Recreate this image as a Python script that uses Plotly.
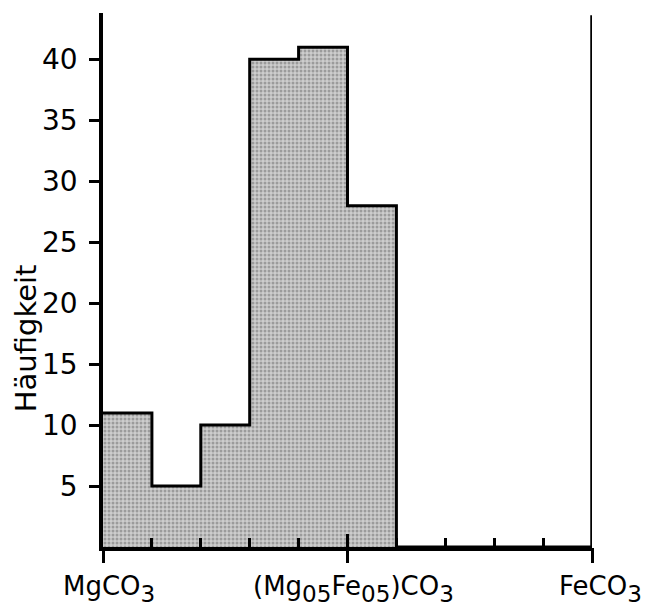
import plotly.graph_objects as go
import numpy as np

# Data
bin_edges = [0.0, 0.1, 0.2, 0.3, 0.4, 0.5, 0.6, 0.7, 0.8, 0.9, 1.0]
counts = [11, 5, 10, 40, 41, 28, 0, 0, 0, 0]
y_ticks = [5, 10, 15, 20, 25, 30, 35, 40]
x_label_pos = [0.0, 0.5, 1.0]
MAIN = '<span style="font-size:26px">{}</span>'
SUB = '<sub>{}</sub>'
x_labels = [
    MAIN.format("MgCO") + SUB.format("3"),
    MAIN.format("(Mg") + SUB.format("05") + MAIN.format("Fe") + SUB.format("05")
    + MAIN.format(")CO") + SUB.format("3"),
    MAIN.format("FeCO") + SUB.format("3"),
]
y_title = "Häufigkeit"

edges = np.array(bin_edges)
lefts = edges[:-1]
widths = np.diff(edges)

FONT = "DejaVu Sans"

fig = go.Figure()
fig.add_trace(go.Bar(
    x=lefts, y=counts, width=widths, offset=0,
    marker=dict(color="#b8b8b8", line=dict(width=0),
                pattern=dict(shape=".", fgcolor="#6a6a6a", bgcolor="#cdcdcd", size=4, solidity=0.45)),
    showlegend=False, hoverinfo="skip",
))
fig.add_trace(go.Scatter(
    x=edges, y=list(counts) + [0], mode="lines", line_shape="hv",
    line=dict(color="black", width=3), showlegend=False, hoverinfo="skip",
))
# invisible traces on overlay axes (for major ticks)
for ax in ["x2", "x3"]:
    fig.add_trace(go.Scatter(x=[0, 1], y=[0, 0], xaxis=ax, mode="lines",
                             line=dict(width=0), showlegend=False, hoverinfo="skip"))

common_x = dict(range=[0, 1], showgrid=False, zeroline=False, showticklabels=False,
                tickcolor="black")
fig.update_layout(
    width=646, height=610,
    margin=dict(l=103, r=54, t=13, b=63),
    paper_bgcolor="white", plot_bgcolor="white",
    bargap=0,
    font=dict(family=FONT, size=26, color="black"),
    xaxis=dict(**common_x, showline=True, linewidth=3.5, linecolor="black",
               tickvals=list(edges), ticks="inside", ticklen=9, tickwidth=2.5),
    xaxis2=dict(**common_x, overlaying="x", anchor="y", side="bottom", showline=False,
                tickvals=x_label_pos, ticks="outside", ticklen=15, tickwidth=3),
    xaxis3=dict(**common_x, overlaying="x", anchor="y", side="bottom", showline=False,
                tickvals=x_label_pos, ticks="inside", ticklen=13, tickwidth=3),
    yaxis=dict(range=[0, 43.8], showline=True, linewidth=3.5, linecolor="black",
               tickvals=y_ticks, ticks="outside", ticklen=10, tickwidth=2.5,
               tickcolor="black", showgrid=False, zeroline=False,
               ticklabelstandoff=6,
               tickfont=dict(size=28, family=FONT)),
    shapes=[dict(type="line", xref="x", yref="paper", x0=1, x1=1, y0=0, y1=0.996,
                 line=dict(color="black", width=3.5))],
)

fig.add_annotation(x=0, y=0.391, xref="paper", yref="paper", text=y_title,
                   showarrow=False, textangle=-90, xanchor="center", yanchor="middle",
                   xshift=-77, font=dict(size=29, family=FONT))

shifts = [6, 6, 8]
for pos, lab, sh in zip(x_label_pos, x_labels, shifts):
    fig.add_annotation(x=pos, y=0, xref="x", yref="y", text=lab, showarrow=False,
                       xanchor="center", yanchor="top", yshift=-22, xshift=sh,
                       font=dict(size=33, family=FONT))

fig.write_html("out.html", post_script="document.body.style.margin='0';",
               config={"displayModeBar": False})
